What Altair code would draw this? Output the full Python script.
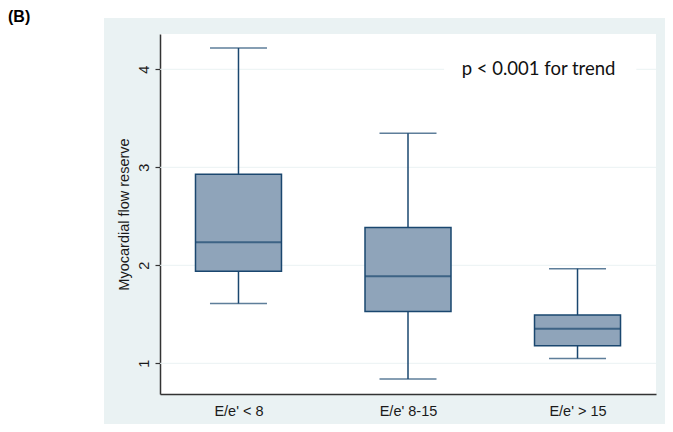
import json
import altair as alt
import pandas as pd

# ---- data ----
categories = ["E/e' < 8", "E/e' 8-15", "E/e' > 15"]
positions = [1, 2, 3]
whisker_low = [1.61, 0.84, 1.05]
q1 = [1.94, 1.53, 1.18]
median = [2.235, 1.888, 1.354]
q3 = [2.93, 2.385, 1.494]
whisker_high = [4.217, 3.347, 1.966]
y_ticks = [1, 2, 3, 4]
annotation_text = ["p < 0.001 for trend"]
annotation_x = [2.77]
annotation_y = [4.0]
annotation_box_x = [2.213, 3.347]
annotation_box_y = [3.93, 4.07]
panel_label = "(B)"
y_title = "Myocardial flow reserve"

NAVY = "#1a476f"
BOXFILL = "#8fa4ba"
BG = "#eaf2f3"
FONT = "Liberation Sans"

df = pd.DataFrame({
    "cat": categories, "pos": positions, "low": whisker_low, "q1": q1,
    "med": median, "q3": q3, "high": whisker_high,
})
grid_df = pd.DataFrame({"v": y_ticks, "pos": [positions[0]] * len(y_ticks)})
ann_df = pd.DataFrame({"t": annotation_text, "x": annotation_x, "y": annotation_y,
                       "bx": [annotation_box_x[0]], "bx2": [annotation_box_x[1]],
                       "by": [annotation_box_y[0]], "by2": [annotation_box_y[1]]})
one = pd.DataFrame({"a": [0]})

xscale = alt.Scale(domain=[0.5665, 3.4335], nice=False, zero=False)
yscale = alt.Scale(domain=[0.687, 4.36], nice=False, zero=False)

label_expr = "[" + ",".join(json.dumps(c) for c in categories) + "][datum.value - 1]"

x_axis = alt.Axis(values=positions, labelExpr=label_expr, title=None, ticks=False,
                  grid=False, domainColor="#333333", domainWidth=1.5,
                  labelFont=FONT, labelFontSize=14.5, labelColor="#1a1a1a",
                  labelPadding=10)
y_axis = alt.Axis(values=y_ticks, title=y_title, grid=False, tickSize=5,
                  tickColor="#333333", tickWidth=1.2, domainColor="#333333",
                  domainWidth=1.5, labelAngle=-90, labelAlign="center",
                  labelBaseline="bottom", labelFont=FONT, labelFontSize=14.5,
                  labelColor="#1a1a1a", labelPadding=4, titleFont=FONT,
                  titleFontSize=14.5, titleFontWeight="normal",
                  titleColor="#1a1a1a", titlePadding=5)


def X(field):
    return alt.X(field, scale=xscale, axis=x_axis, title=None)


def Y(field):
    return alt.Y(field, scale=yscale, axis=y_axis, title=y_title)


# decorative white area outside the grey graph region (top-left L shape)
white_left = alt.Chart(one).mark_rect(color="white").encode(
    x=alt.value(-160), x2=alt.value(-56), y=alt.value(-40), y2=alt.value(440))
white_top = alt.Chart(one).mark_rect(color="white").encode(
    x=alt.value(-160), x2=alt.value(520), y=alt.value(-40), y2=alt.value(-16))

grid = alt.Chart(grid_df).mark_rule(color=BG, strokeWidth=1).encode(
    y=Y("v:Q"), x=alt.value(0), x2=alt.value(496))

base = alt.Chart(df)
whisk = base.mark_rule(color=NAVY, strokeWidth=1.5).encode(
    x=X("pos:Q"), y=Y("low:Q"), y2="high:Q")
cap_lo = base.mark_tick(color=NAVY, orient="horizontal", size=57, thickness=1.5).encode(
    x=X("pos:Q"), y=Y("low:Q"))
cap_hi = base.mark_tick(color=NAVY, orient="horizontal", size=57, thickness=1.5).encode(
    x=X("pos:Q"), y=Y("high:Q"))
box = base.mark_bar(fill=BOXFILL, stroke=NAVY, strokeWidth=1.5, size=86).encode(
    x=X("pos:Q"), y=Y("q1:Q"), y2="q3:Q")
med = base.mark_tick(color=NAVY, orient="horizontal", size=86, thickness=2).encode(
    x=X("pos:Q"), y=Y("med:Q"))

ann_box = alt.Chart(ann_df).mark_rect(color="white").encode(
    x=X("bx:Q"), x2="bx2:Q", y=Y("by:Q"), y2="by2:Q")
ann = alt.Chart(ann_df).mark_text(font="Lato", fontSize=18.5, color="#111111",
                                  align="center", baseline="middle").encode(
    x=X("x:Q"), y=Y("y:Q"), text="t:N")

label = alt.Chart(one).mark_text(text=panel_label, font=FONT, fontSize=16,
                                 fontWeight="bold", align="left", baseline="top",
                                 color="black").encode(
    x=alt.value(-152), y=alt.value(-25))

chart = alt.layer(white_left, white_top, grid, whisk, cap_lo, cap_hi, box, med,
                  ann_box, ann, label).properties(
    width=496, height=360,
    padding={"left": 152, "top": 26, "right": 9, "bottom": 30},
    autosize=alt.AutoSizeParams(type="none"),
    background=BG,
).configure_view(stroke=None, fill="white")

chart.save("out.html", embed_options={"renderer": "svg", "actions": False})
